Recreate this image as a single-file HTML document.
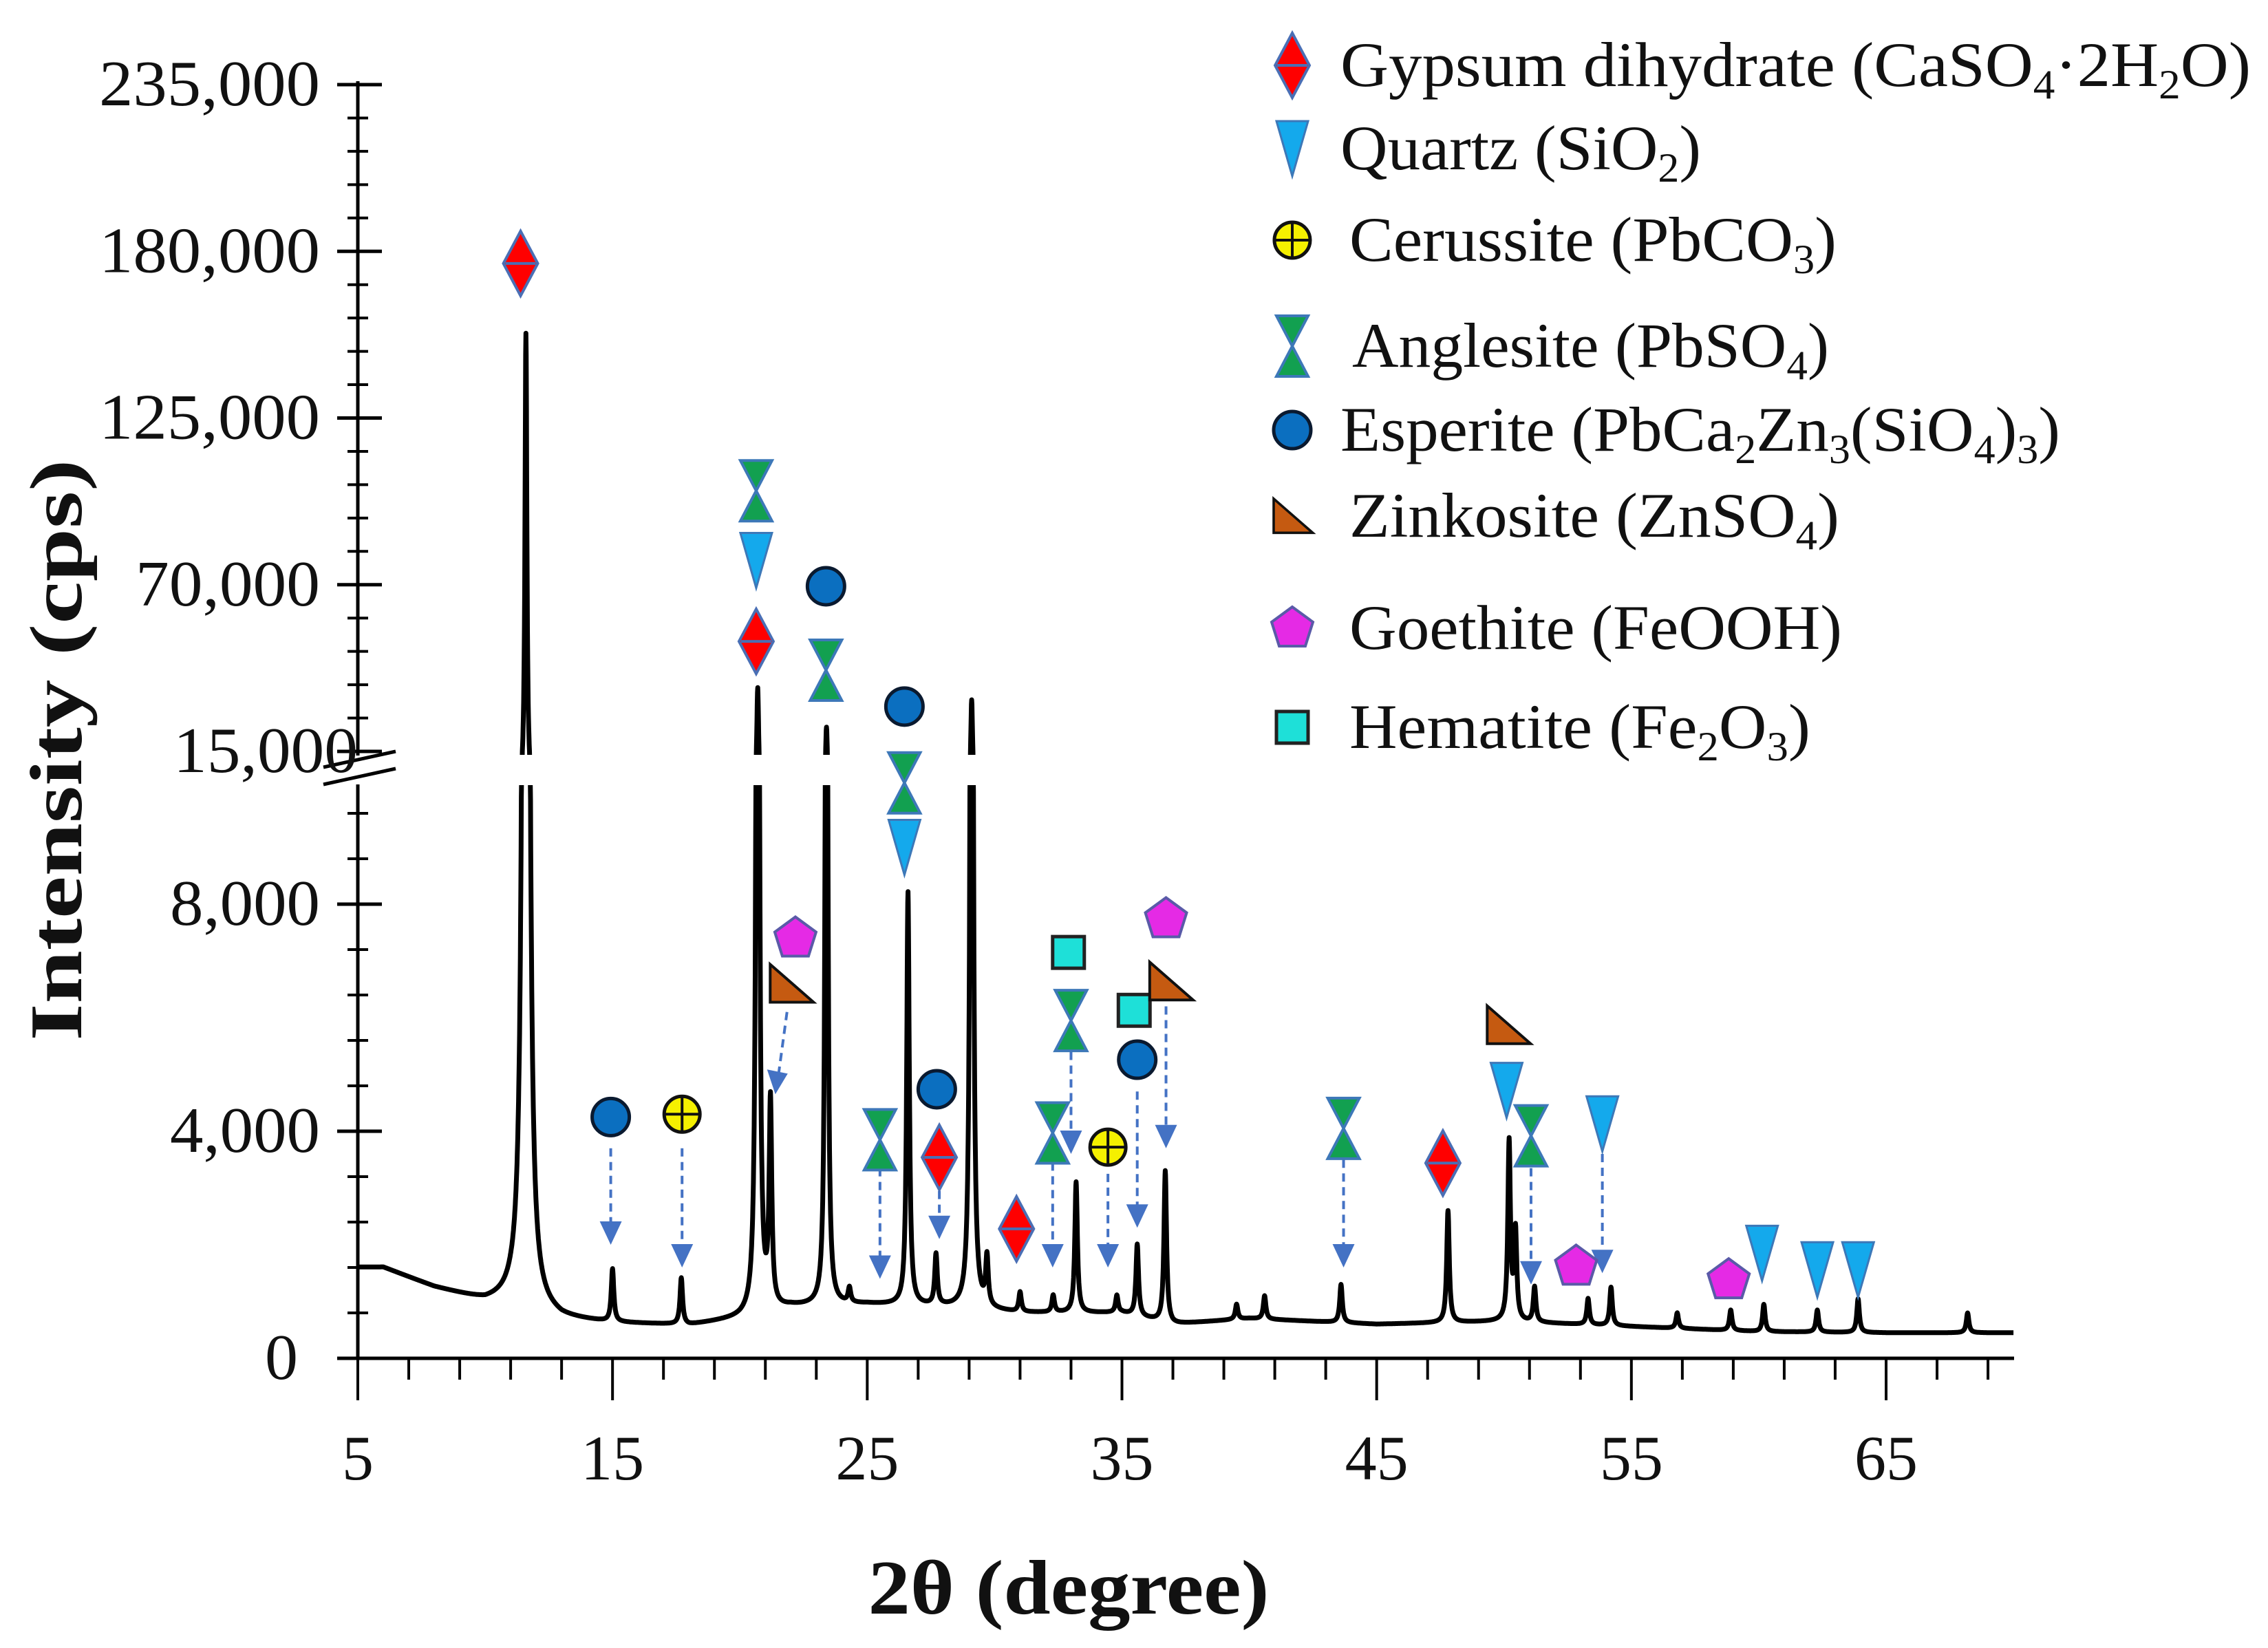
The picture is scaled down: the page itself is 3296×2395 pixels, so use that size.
<!DOCTYPE html>
<html><head><meta charset="utf-8"><style>
html,body{margin:0;padding:0;background:#fff}
svg{display:block}
text{font-family:"Liberation Serif",serif;fill:#111}
</style></head><body>
<svg id="chart" width="3296" height="2395" viewBox="0 0 3296 2395" xmlns="http://www.w3.org/2000/svg">
<g id="curveLayer"></g>
<g id="axisLayer"></g>
<g id="markLayer"></g>
<g id="legend"></g>
<text x="1553" y="2345" text-anchor="middle" font-size="112" font-weight="bold" textLength="583" lengthAdjust="spacingAndGlyphs">2θ (degree)</text>
<text transform="translate(118,1090) rotate(-90)" text-anchor="middle" font-size="108" font-weight="bold" textLength="845" lengthAdjust="spacingAndGlyphs">Intensity (cps)</text>
</svg>
<script>
// ---- data ----
const baseX = [5,6,8,10,11,13,15,18,20,22,25,28,31,35,37,40,45,50,55,60,65,70];
const baseY = [1600,1600,1250,1000,1000,700,620,580,700,900,950,900,800,800,600,700,600,650,560,470,450,450];
const peakPos = [11.6,15.0,17.7,20.7,21.2,23.4,24.3,26.6,27.7,29.1,29.7,31.0,32.3,33.2,34.8,35.6,36.7,39.5,40.6,43.6,47.8,50.2,50.45,51.2,53.3,54.2,56.8,58.9,60.2,62.3,63.9,68.2];
const peakHeight = [153000,1550,1400,36000,4400,23000,1200,8200,1800,32000,1700,1150,1100,3100,1100,2000,3300,950,1100,1300,2600,3800,2200,1250,1050,1250,800,850,950,850,1050,800];
const yTicksLower = [0,4000,8000];
const yTicksUpper = [15000,70000,125000,180000,235000];
const xTicks = [5,15,25,35,45,55,65];
// markers: [type, 2theta, intensity]
const markerType = ['gyp','gyp','qtz','ang','esp','ang','esp','ang','qtz','goe','zin','esp','cer','ang','gyp','esp','gyp','ang','hem','ang','cer','hem','esp','goe','zin','ang','gyp','zin','qtz','ang','qtz','goe','goe','qtz','qtz','qtz'];
const markerX = [11.39,20.64,20.64,20.64,23.38,23.38,26.46,26.46,26.46,22.18,22.0,14.93,17.73,25.5,27.83,27.73,30.86,32.28,32.9,33.0,34.45,35.48,35.6,36.73,36.9,43.7,47.6,50.15,50.1,51.06,53.86,52.83,58.82,60.13,62.3,63.9];
const markerY = [176000,51300,78000,101000,69500,41800,29800,10400,9000,7400,6600,4250,4300,3850,3540,4740,2280,3970,7150,5950,3720,6130,5260,7740,6640,4050,3440,5870,4720,3920,4130,1620,1380,1850,1560,1560];
// arrows: x, top, bottom intensity
const arrowX = [14.93,17.73,25.5,27.83,32.28,33.0,34.45,35.6,36.73,43.7,51.06,53.86];
const arrowTop = [3700,3700,3350,2950,3450,5400,3250,4700,6200,3500,3350,3600];
const arrowBot = [2000,1600,1400,2100,1600,3600,1600,2300,3700,1600,1300,1500];

// ---- scales ----
const X0=520, PX_PER_DEG=(2741-520)/60;
function sx(d){return X0+(d-5)*PX_PER_DEG;}
function sy(v){
  if(v<=10100) return 1974 - v*0.0825;
  if(v>=15000) return 1092 - (v-15000)*(1092-123)/220000;
  return 1140.7 + (v-10100)/(4900)*(1092-1140.7);
}
const NS='http://www.w3.org/2000/svg';
function mk(tag,attrs,parent){const e=document.createElementNS(NS,tag);for(const k in attrs)e.setAttribute(k,attrs[k]);parent.appendChild(e);return e;}
function baseAt(d){for(let i=0;i<baseX.length-1;i++){if(d>=baseX[i]&&d<=baseX[i+1]){const t=(d-baseX[i])/(baseX[i+1]-baseX[i]);return baseY[i]+t*(baseY[i+1]-baseY[i]);}}return baseY[baseY.length-1];}

// ---- curve ----
const curveLayer=document.getElementById('curveLayer');
let pts=[];
for(let d=5;d<=70.001;d+=0.01){
  let v=baseAt(d);
  for(let i=0;i<peakPos.length;i++){
    const big=peakHeight[i]>20000;
    const g=big?0.045:0.06;
    const h=peakHeight[i]-baseAt(peakPos[i]);
    const z=(d-peakPos[i])/g;
    v+=h/(1+z*z);
  }
  pts.push(sx(d).toFixed(1)+','+sy(v).toFixed(1));
}
const curve=mk('polyline',{points:pts.join(' '),fill:'none',stroke:'#000','stroke-width':7,'stroke-linejoin':'round'},curveLayer);


const gap=mk('rect',{x:530,y:1097,width:2420,height:44,fill:'#fff'},curveLayer);



// ---- axes ----
const ax=document.getElementById('axisLayer');
mk('line',{x1:520,y1:118,x2:520,y2:1098,stroke:'#000','stroke-width':5},ax);
mk('line',{x1:520,y1:1140,x2:520,y2:1976,stroke:'#000','stroke-width':5},ax);
mk('line',{x1:518,y1:1974,x2:2927,y2:1974,stroke:'#000','stroke-width':5},ax);
// break slashes
mk('line',{x1:470,y1:1115,x2:575,y2:1092,stroke:'#000','stroke-width':5},ax);
mk('line',{x1:470,y1:1140,x2:575,y2:1117,stroke:'#000','stroke-width':5},ax);
// y minor ticks
for(let v=0;v<=10000;v+=800){mk('line',{x1:505,y1:sy(v),x2:535,y2:sy(v),stroke:'#000','stroke-width':4},ax);}
for(let v=15000;v<=235000;v+=11000){mk('line',{x1:505,y1:sy(v),x2:535,y2:sy(v),stroke:'#000','stroke-width':4},ax);}
yTicksLower.concat(yTicksUpper).forEach(v=>{
  mk('line',{x1:490,y1:sy(v),x2:555,y2:sy(v),stroke:'#000','stroke-width':5},ax);
  const s=v.toLocaleString('en-US');
  const w={1:48,5:218,6:268,7:321}[s.length];
  const t=mk('text',{x:(v===0?433:(v===15000?520:465)),y:sy(v)+30,'text-anchor':'end','font-size':94,textLength:w,lengthAdjust:'spacingAndGlyphs'},ax);
  t.textContent=s;
  
  
});
for(let d=5;d<=70;d+=2){
  const major=((d-5)%10===0);
  mk('line',{x1:sx(d),y1:1974,x2:sx(d),y2:major?2035:2005,stroke:'#000','stroke-width':4},ax);
}
xTicks.forEach(d=>{
  const t=mk('text',{x:sx(d),y:2150,'text-anchor':'middle','font-size':92},ax);
  t.textContent=d;
  
  
});

// ---- marker shapes ----
function shape(type,cx,cy,parent,s){
  s=s||1;const g=mk('g',{transform:`translate(${cx},${cy}) scale(${s})`},parent);
  if(type==='gyp'){mk('polygon',{points:'0,-47 25,0 0,47 -25,0',fill:'#ff0000',stroke:'#4a6fb5','stroke-width':4},g);mk('line',{x1:-22,y1:0,x2:22,y2:0,stroke:'#4a6fb5','stroke-width':4},g);}
  else if(type==='qtz'){mk('polygon',{points:'-23,-40 23,-40 0,40',fill:'#14a9ec',stroke:'#3d78b8','stroke-width':3},g);}
  else if(type==='ang'){mk('polygon',{points:'-23,-44 23,-44 0,0 23,44 -23,44 0,0',fill:'#12a050',stroke:'#3d78b8','stroke-width':4},g);}
  else if(type==='esp'){mk('circle',{cx:0,cy:0,r:27,fill:'#0b6fc0',stroke:'#0a1a30','stroke-width':5},g);}
  else if(type==='cer'){mk('circle',{cx:0,cy:0,r:26,fill:'#f5f000',stroke:'#111','stroke-width':5},g);mk('line',{x1:-24,y1:0,x2:24,y2:0,stroke:'#111','stroke-width':4},g);mk('line',{x1:0,y1:-24,x2:0,y2:24,stroke:'#111','stroke-width':4},g);}
  else if(type==='goe'){mk('polygon',{points:'0,-31 30,-9 19,26 -19,26 -30,-9',fill:'#e52ae5',stroke:'#5a5aa8','stroke-width':4},g);}
  else if(type==='hem'){mk('rect',{x:-23,y:-23,width:46,height:46,fill:'#1ee0d8',stroke:'#222','stroke-width':5},g);}
  else if(type==='zin'){mk('polygon',{points:'-30,-28 -30,27 33,27',fill:'#c55a11',stroke:'#111','stroke-width':4},g);}
  return g;
}
const ml=document.getElementById('markLayer');
// arrows
for(let i=0;i<arrowX.length;i++){
  const x=sx(arrowX[i]),y1=sy(arrowTop[i]),y2=sy(arrowBot[i]);
  const a=mk('g',{},ml);
  
  
  mk('line',{x1:x,y1:y1,x2:x,y2:y2-30,stroke:'#4472c4','stroke-width':4,'stroke-dasharray':'12,8'},a);
  mk('polygon',{points:`${x-16},${y2-34} ${x+16},${y2-34} ${x},${y2}`,fill:'#4472c4'},a);
}
// diagonal arrow from zinkosite near 22°
(function(){const a=mk('g',{},ml);


const x1=sx(21.85),y1=sy(6100),x2=sx(21.5),y2=sy(4700);
mk('line',{x1:x1,y1:y1,x2:x2,y2:y2-20,stroke:'#4472c4','stroke-width':4,'stroke-dasharray':'12,8'},a);
mk('polygon',{points:`${x2-16},${y2-32} ${x2+14},${y2-26} ${x2-4},${y2+4}`,fill:'#4472c4'},a);})();
for(let i=0;i<markerType.length;i++){
  const g=shape(markerType[i],sx(markerX[i]),sy(markerY[i]),ml);
  
  
}

// ---- legend ----
const lg=document.getElementById('legend');
const legType=['gyp','qtz','cer','ang','esp','zin','goe','hem'];
const legY=[95,216,349,503,625,750,913,1057];
const legX=[1948,1948,1961,1965,1948,1961,1961,1961];
const legW=[1323,524,708,693,1046,712,716,670];
const legHTML=[
 'Gypsum dihydrate (CaSO<tspan font-size="60" dy="18">4</tspan><tspan dy="-18">·2H</tspan><tspan font-size="60" dy="18">2</tspan><tspan dy="-18">O)</tspan>',
 'Quartz (SiO<tspan font-size="60" dy="18">2</tspan><tspan dy="-18">)</tspan>',
 'Cerussite (PbCO<tspan font-size="60" dy="18">3</tspan><tspan dy="-18">)</tspan>',
 'Anglesite (PbSO<tspan font-size="60" dy="18">4</tspan><tspan dy="-18">)</tspan>',
 'Esperite (PbCa<tspan font-size="60" dy="18">2</tspan><tspan dy="-18">Zn</tspan><tspan font-size="60" dy="18">3</tspan><tspan dy="-18">(SiO</tspan><tspan font-size="60" dy="18">4</tspan><tspan dy="-18">)</tspan><tspan font-size="60" dy="18">3</tspan><tspan dy="-18">)</tspan>',
 'Zinkosite (ZnSO<tspan font-size="60" dy="18">4</tspan><tspan dy="-18">)</tspan>',
 'Goethite (FeOOH)',
 'Hematite (Fe<tspan font-size="60" dy="18">2</tspan><tspan dy="-18">O</tspan><tspan font-size="60" dy="18">3</tspan><tspan dy="-18">)</tspan>'];
for(let i=0;i<legType.length;i++){
  const e=mk('g',{},lg);
  
  
  shape(legType[i],1878,legY[i],e,legType[i]==='zin'?0.9:1);
  const t=mk('text',{x:legX[i],y:legY[i]+30,'font-size':92,textLength:legW[i],lengthAdjust:'spacingAndGlyphs'},e);
  t.innerHTML=legHTML[i];
}
</script>
</body></html>
